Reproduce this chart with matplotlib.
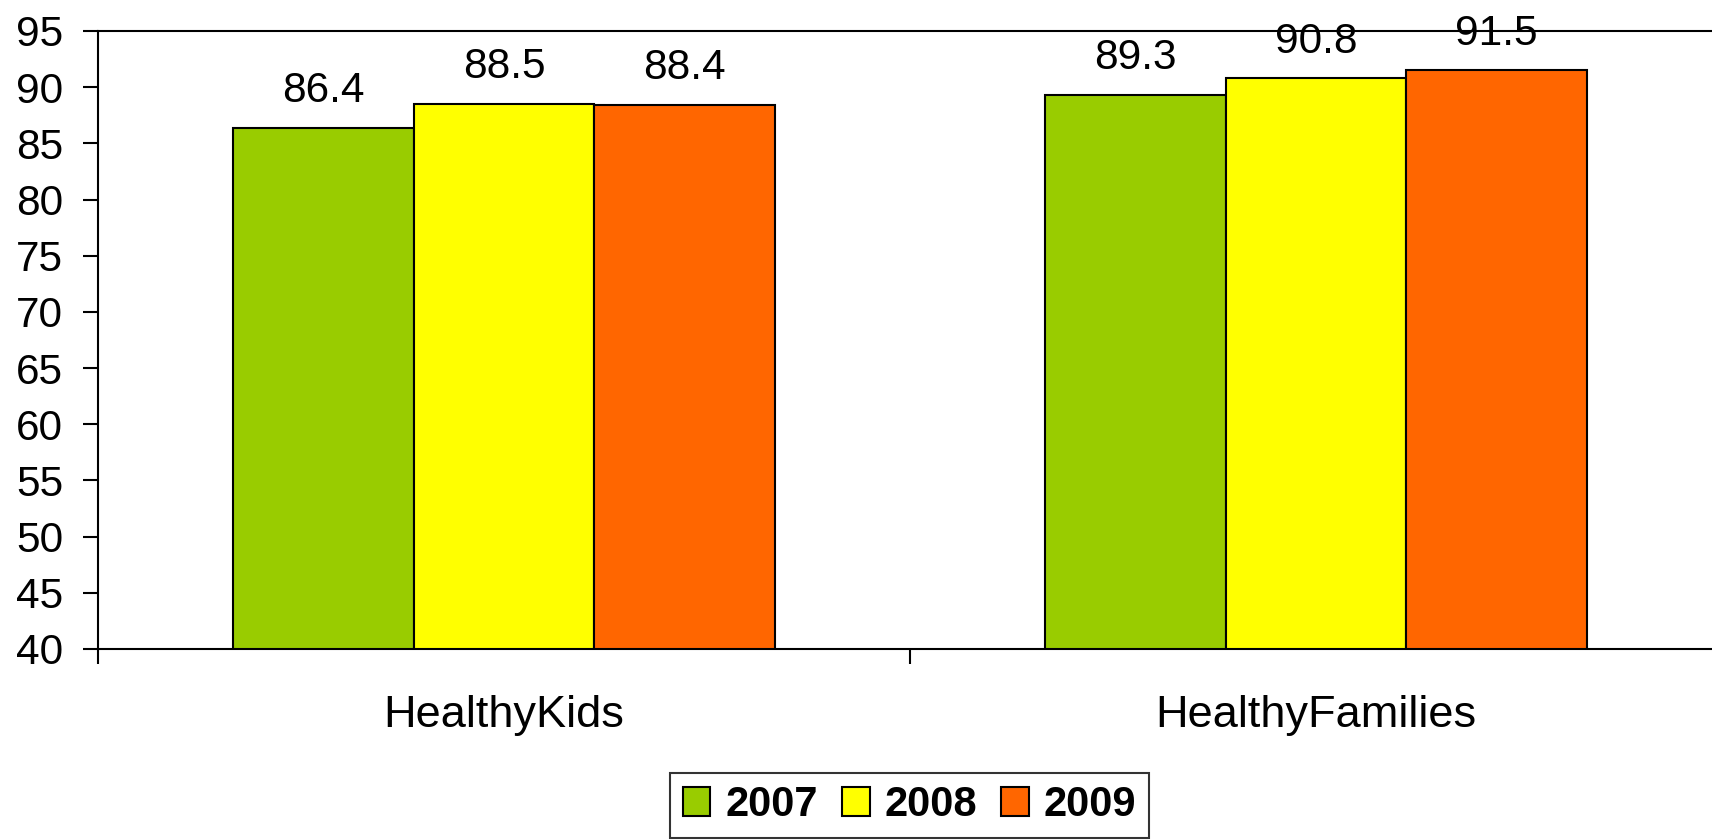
import matplotlib
matplotlib.use("Agg")
import matplotlib.pyplot as plt
import numpy as np

categories = ["HealthyKids", "HealthyFamilies"]
years = ["2007", "2008", "2009"]
values_2007 = [86.4, 89.3]
values_2008 = [88.5, 90.8]
values_2009 = [88.4, 91.5]
yticks = [40, 45, 50, 55, 60, 65, 70, 75, 80, 85, 90, 95]

colors = ["#99CC00", "#FFFF00", "#FF6600"]

plt.rcParams['font.family'] = ['Liberation Sans', 'DejaVu Sans']

fig = plt.figure(figsize=(17.12, 8.4), dpi=100)
ax = fig.add_axes([98/1712, 1-649/840, (1722-98)/1712, (649-31)/840])

x = np.arange(len(categories))
width = 1/4.5
series = [values_2007, values_2008, values_2009]
for i, (vals, yr, c) in enumerate(zip(series, years, colors)):
    ax.bar(x + (i-1)*width, np.array(vals) - 40, width, bottom=40,
           color=c, edgecolor='black', linewidth=1.5, label=yr, zorder=3)
    for xi, v in zip(x + (i-1)*width, vals):
        ax.annotate(f"{v:.1f}", (xi, v), xytext=(0, 12), textcoords='offset points',
                    ha='center', va='bottom', fontsize=30.5, clip_on=False, zorder=4)

ax.set_xlim(-0.5, 1.5)
ax.set_ylim(40, 95)
ax.set_yticks(yticks)
ax.set_yticklabels([str(t) for t in yticks], fontsize=30.5)
ax.tick_params(axis='y', direction='out', length=11, width=1.5, pad=14)
ax.set_xticks([-0.5, 0.5, 1.5])
ax.set_xticklabels([])
ax.set_xticks([0, 1], minor=True)
ax.set_xticklabels(categories, minor=True, fontsize=32.5)
ax.tick_params(axis='x', which='major', direction='out', length=11, width=1.5)
ax.tick_params(axis='x', which='minor', length=0, pad=33)
ax.spines['right'].set_visible(False)
for s in ['left', 'top', 'bottom']:
    ax.spines[s].set_linewidth(1.5)

leg = fig.legend(loc='center', bbox_to_anchor=(909.5/1712, 1-805/840),
                 ncol=3, frameon=True, fancybox=False, edgecolor='black',
                 prop={'weight': 'bold', 'size': 30},
                 handlelength=0.67, handleheight=0.67, handletextpad=0.36,
                 columnspacing=0.57, borderpad=0.3, borderaxespad=0)
leg.get_frame().set_linewidth(1.5)

fig.savefig("out.png", dpi=100)
